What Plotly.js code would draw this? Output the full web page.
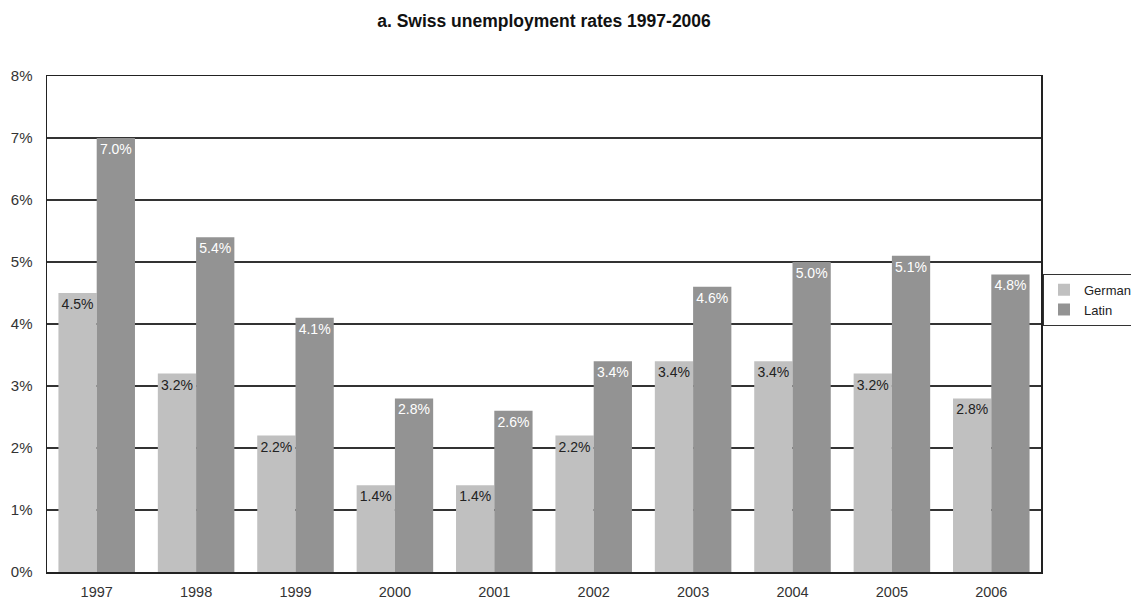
<!DOCTYPE html>
<html>
<head>
<meta charset="utf-8">
<script src="https://cdn.plot.ly/plotly-3.0.1.min.js"></script>
<style>html,body{margin:0;padding:0;background:#fff;}#chart{width:1131px;height:606px;}</style>
</head>
<body>
<div id="chart"></div>
<script>
const years = ['1997','1998','1999','2000','2001','2002','2003','2004','2005','2006'];
const german = [4.5, 3.2, 2.2, 1.4, 1.4, 2.2, 3.4, 3.4, 3.2, 2.8];
const latin = [7.0, 5.4, 4.1, 2.8, 2.6, 3.4, 4.6, 5.0, 5.1, 4.8];
const yTicks = [0,1,2,3,4,5,6,7,8];

const fmt = v => v.toFixed(1) + '%';
const traces = [
  {type:'bar', name:'German', x:years, y:german, text:german.map(fmt),
   textposition:'inside', insidetextanchor:'end', constraintext:'none',
   textfont:{family:'Liberation Sans, Arial, sans-serif', size:14, color:'#222'},
   marker:{color:'#c0c0c0'}, hoverinfo:'none'},
  {type:'bar', name:'Latin', x:years, y:latin, text:latin.map(fmt),
   textposition:'inside', insidetextanchor:'end', constraintext:'none',
   textfont:{family:'Liberation Sans, Arial, sans-serif', size:14, color:'#ffffff'},
   marker:{color:'#939393'}, hoverinfo:'none'}
];
const layout = {
  width:1131, height:606,
  margin:{l:47, r:90, t:76, b:34, autoexpand:false},
  paper_bgcolor:'#fff', plot_bgcolor:'#fff',
  font:{family:'Liberation Sans, Arial, sans-serif', size:15, color:'#333'},
  title:{text:'<b>a. Swiss unemployment rates 1997-2006</b>', x:0.5, xref:'paper', xanchor:'center',
         y:1-21/606, yanchor:'middle', font:{size:17.5, color:'#111'}},
  barmode:'group', bargap:0.23, bargroupgap:0,
  showlegend:true,
  legend:{x:(1043-47)/994, xanchor:'left', y:0.549, yanchor:'middle', bordercolor:'#333', borderwidth:1,
          font:{size:13, color:'#222'}, itemwidth:30, tracegroupgap:0},
  xaxis:{type:'category', showgrid:false, showline:true, linecolor:'#222', linewidth:1.5, mirror:true,
         ticks:'', ticklabelstandoff:6, tickfont:{size:14.5}},
  yaxis:{range:[0,8], tickvals:yTicks, ticktext:yTicks.map(v=>v+'%'), showgrid:true,
         gridcolor:'#333', gridwidth:1.5, showline:true, linecolor:'#222', linewidth:1.5, mirror:true,
         zeroline:false, ticks:'', ticklabelstandoff:10, tickfont:{size:15}}
};
Plotly.newPlot('chart', traces, layout, {displayModeBar:false, staticPlot:true});
</script>
</body>
</html>
